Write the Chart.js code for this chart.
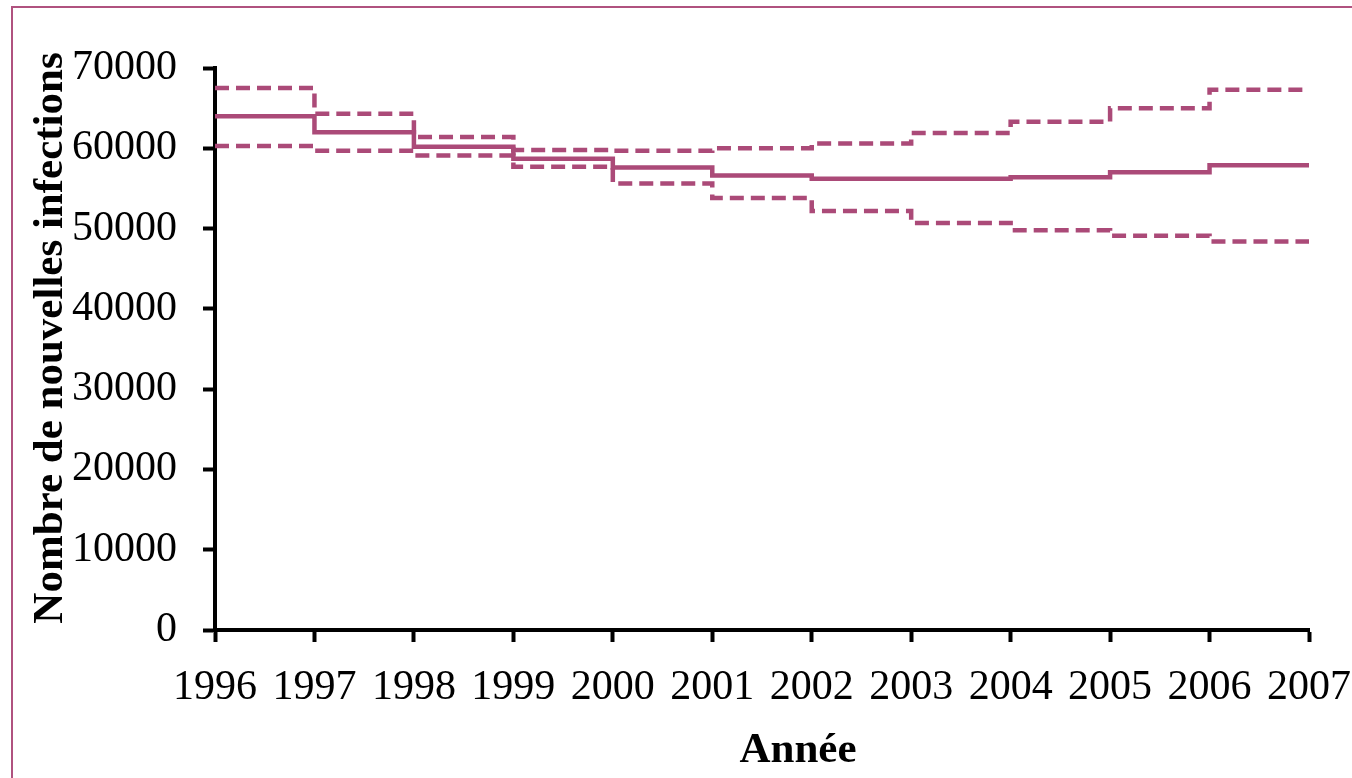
<!DOCTYPE html>
<html lang="fr">
<head>
  <meta charset="UTF-8">
  <title>Nombre de nouvelles infections par année</title>
  <script src="https://cdn.jsdelivr.net/npm/chart.js"></script>
  <style>
    html, body {
      margin: 0;
      padding: 0;
      background: #fff;
      overflow: hidden;
    }
    .frame {
      position: absolute;
      left: 11px;
      top: 6px;
      width: 1400px;
      height: 820px;
      border: 2px solid #b0527f;
    }
    canvas {
      position: absolute;
      left: 0;
      top: 0;
    }
  </style>
</head>
<body>

<div class="frame"></div>
<canvas id="infectionsChart" width="1352" height="778" role="img"
        aria-label="Nombre de nouvelles infections par année, 1996 à 2007"></canvas>

<script>
  // start year of each one-year step, plus the closing year
  const years = [1996, 1997, 1998, 1999, 2000, 2001, 2002, 2003, 2004, 2005, 2006];
  const endYear = 2007;

  // estimate and bounds
  const estimate = [64000, 62000, 60200, 58700, 57600, 56600, 56200, 56200, 56400, 57000, 57900];
  const upperBound = [67500, 64300, 61400, 59800, 59700, 60000, 60600, 61900, 63300, 65000, 67300];
  const lowerBound = [60300, 59700, 59100, 57700, 55600, 53800, 52200, 50700, 49800, 49100, 48400];

  const yTicks = [0, 10000, 20000, 30000, 40000, 50000, 60000, 70000];

  const lineColor = '#ab4a78';
  const fontFamily = '"Liberation Serif", "Times New Roman", serif';

  // step series: each value holds until the next year, last one until endYear
  const toSteps = vals => years.map((yr, i) => ({ x: yr, y: vals[i] }))
    .concat([{ x: endYear, y: vals[vals.length - 1] }]);

  const axisTitles = {
    id: 'axisTitles',
    afterDraw(chart) {
      const { ctx, chartArea } = chart;
      ctx.save();
      ctx.fillStyle = '#000';
      ctx.font = 'bold 43px ' + fontFamily;
      ctx.textAlign = 'center';
      ctx.textBaseline = 'alphabetic';
      ctx.fillText('Année', (chartArea.left + chartArea.right) / 2 + 36, 762);
      ctx.translate(62, (chartArea.top + chartArea.bottom) / 2 - 11);
      ctx.rotate(-Math.PI / 2);
      ctx.fillText('Nombre de nouvelles infections', 0, 0);
      ctx.restore();
    }
  };

  const ctx = document.getElementById('infectionsChart').getContext('2d');

  const dashed = {
    borderColor: lineColor,
    borderWidth: 4.5,
    borderDash: [14, 7],
    pointRadius: 0,
    stepped: 'before',
    fill: false
  };

  new Chart(ctx, {
    type: 'line',
    data: {
      datasets: [
        Object.assign({ label: 'Borne supérieure', data: toSteps(upperBound) }, dashed),
        {
          label: 'Estimation',
          data: toSteps(estimate),
          borderColor: lineColor,
          borderWidth: 4.5,
          pointRadius: 0,
          stepped: 'before',
          fill: false
        },
        Object.assign({ label: 'Borne inférieure', data: toSteps(lowerBound) }, dashed)
      ]
    },
    options: {
      responsive: false,
      animation: false,
      layout: { padding: { left: 0, top: 68, right: 43, bottom: 0 } },
      plugins: {
        legend: { display: false },
        tooltip: { enabled: false }
      },
      scales: {
        x: {
          type: 'linear',
          min: years[0],
          max: endYear,
          afterFit: s => {
            s.height = 148;
            s.paddingLeft = 0;
            s.paddingRight = 0;
          },
          afterBuildTicks: s => {
            s.ticks = years.concat([endYear]).map(v => ({ value: v }));
          },
          ticks: {
            color: '#000',
            padding: 21,
            maxRotation: 0,
            autoSkip: false,
            font: { family: fontFamily, size: 42 },
            callback: v => String(v)
          },
          grid: {
            drawOnChartArea: false,
            tickLength: 12,
            tickWidth: 4,
            tickColor: '#000'
          },
          border: { color: '#000', width: 4 }
        },
        y: {
          min: 0,
          max: 70000,
          afterFit: s => { s.width = 215; },
          afterBuildTicks: s => {
            s.ticks = yTicks.map(v => ({ value: v }));
          },
          ticks: {
            color: '#000',
            padding: 26,
            font: { family: fontFamily, size: 42 },
            callback: v => String(v)
          },
          grid: {
            drawOnChartArea: false,
            tickLength: 12,
            tickWidth: 4,
            tickColor: '#000'
          },
          border: { color: '#000', width: 4 }
        }
      }
    },
    plugins: [axisTitles]
  });
</script>

</body>
</html>
